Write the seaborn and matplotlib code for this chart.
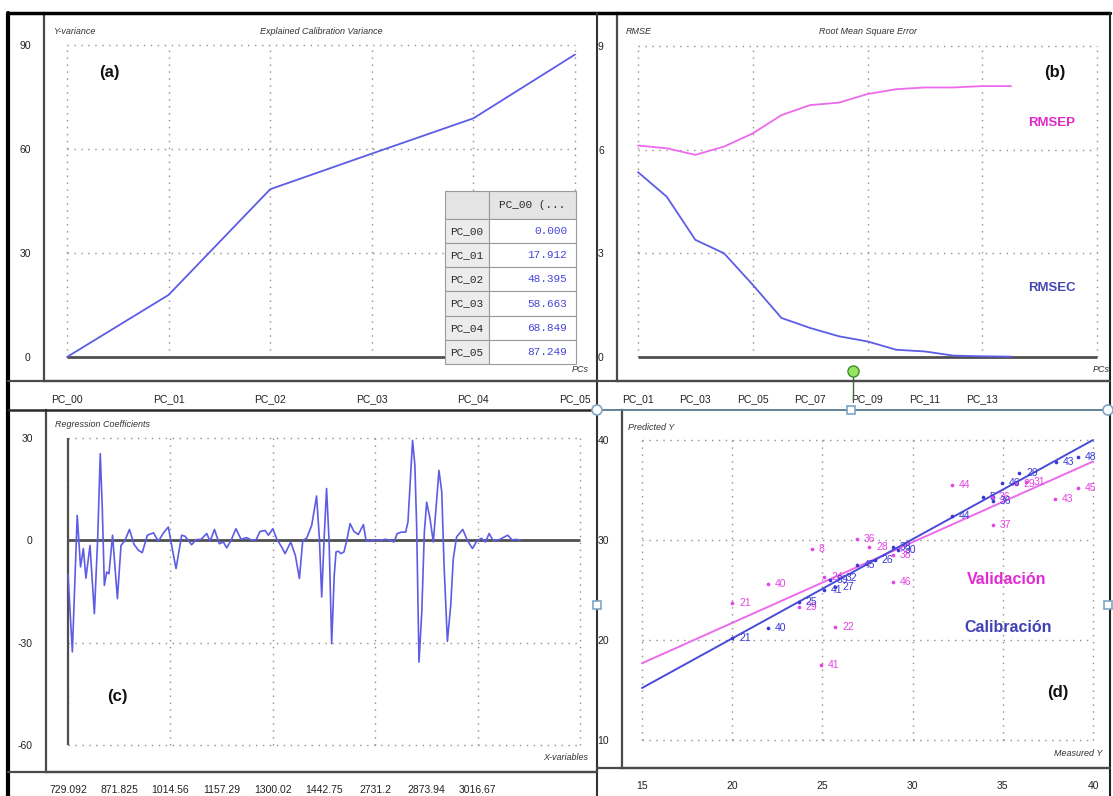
import numpy as np
import matplotlib
matplotlib.use("Agg")
import matplotlib.pyplot as plt
from matplotlib import font_manager
from matplotlib.lines import Line2D
from matplotlib.patches import Rectangle, Ellipse
from matplotlib.table import Table
from matplotlib.ticker import MultipleLocator
import seaborn as sns

# ---------------- data ----------------
# (a) explained calibration variance per number of PCs
pcs_a = ["PC_00", "PC_01", "PC_02", "PC_03", "PC_04", "PC_05"]
explained_var = [0.000, 17.912, 48.395, 58.663, 68.849, 87.249]

# (b) root mean square error versus number of PCs
pcs_b = [1, 2, 3, 4, 5, 6, 7, 8, 9, 10, 11, 12, 13, 14]
rmsep = [6.12, 6.04, 5.85, 6.09, 6.47, 7.00, 7.29, 7.36, 7.61, 7.75, 7.80, 7.80, 7.84, 7.84]
rmsec = [5.35, 4.64, 3.39, 3.00, 2.09, 1.13, 0.84, 0.60, 0.45, 0.21, 0.16, 0.04, 0.02, 0.01]
pc_major_b = [1, 5, 9, 13, 17]
pc_major_labels_b = ["PC_01", "PC_05", "PC_09", "PC_13", ""]
pc_minor_b = [2, 3, 4, 6, 7, 8, 10, 11, 12, 14, 15, 16]
pc_minor_labels_b = ["", "PC_03", "", "", "PC_07", "", "", "PC_11", "", "", "", ""]

# (c) regression coefficients along the X-variables (variable index)
coef_index = [0, 1.7, 3.6, 4.9, 6, 7, 8.6, 10.3, 11.6, 12.6, 13.4, 14.2, 15.1, 16, 17.4,
              19.3, 20.7, 22.3, 24, 25.8, 27.5, 29, 31, 33.4, 35.3, 37.3, 39.2, 40.5, 42.2,
              44.4, 45.7, 48.3, 50, 52, 54.2, 55.5, 57.2, 59.1, 60.7, 62, 63.7, 65.6, 67.6,
              69.8, 71.8, 73.5, 75, 77, 78.3, 80, 81.6, 83.5, 84.8, 87, 88.8, 90.4, 91.7,
              93.2, 95.2, 97.1, 98.2, 99.1, 100.1, 101, 102, 103, 104, 104.7, 105.6, 106.6,
              107.8, 108.9, 110.2, 111.7, 113.4, 115.4, 116.4, 117.7, 120, 122, 124, 126,
              127.3, 128.6, 130.2, 131.9, 132.8, 134.6, 135.5, 136.2, 137.1, 138.2, 139.2,
              140.1, 141.4, 142.7, 143.75, 144.9, 146, 146.9, 148.2, 149.5, 150.5, 151.8,
              154.2, 156, 158, 159.6, 161.5, 163.1, 164.5, 166, 168.6, 169.9, 171.8, 173.5,
              175, 176.6]
coef_value = [-10, -32.7, 7.3, -7.8, -2.4, -11.1, -1.5, -21.5, 0.6, 25.4, 9.3, -13.2, -9.3,
              -9.8, 1.5, -17.1, -1.5, 0, 3.2, -1.2, -2.9, -3.6, 1.5, 2.2, -0.3, 2.2, 3.9, -1.5,
              -8.3, 1.5, 1.2, -1.3, 0.2, 0.3, 2.0, -0.3, 3.2, -1.0, -0.5, -2.2, 0, 3.4, 0.3,
              0.8, 0, 0.2, 2.6, 2.9, 1.5, 3.4, 0.3, -2.0, -3.9, -0.5, -4.4, -11.2, 0, 0.6,
              4.4, 13.0, 0.5, -16.6, 1.3, 15.2, -0.5, -30.3, -10.3, -3.4, -3.2, -3.9, -3.4,
              0, 4.9, 2.6, 1.7, 4.6, 0, -0.3, 0.2, 0, 0.3, 0, -0.5, 2.0, 2.4, 2.4, 5.4, 29.3,
              22, 3.9, -35.7, -21, 2.4, 11.2, 6.4, -0.5, 9.3, 20.5, 14.2, -7.3, -29.6, -19.1,
              -5.4, 1.0, 3.2, 0, -2.4, -0.3, 0.6, -0.5, 2.0, 0, 0.2, 0.8, 1.5, 0.1, 0.3, 0]
xvar_labels = ["729.092", "871.825", "1014.56", "1157.29", "1300.02",
               "1442.75", "2731.2", "2873.94", "3016.67"]
xvar_step = 20

# (d) predicted versus measured Y
cal_measured = [20.0, 22.0, 23.7, 25.1, 25.4, 25.7, 25.9, 26.9, 27.9, 28.9, 29.2, 32.2,
                33.9, 34.45, 34.95, 35.9, 37.95, 39.15]
cal_predicted = [20.2, 21.2, 23.8, 25.0, 26.0, 25.3, 26.2, 27.5, 28.0, 29.3, 29.0, 32.4,
                 34.3, 33.9, 35.7, 36.7, 37.8, 38.3]
cal_labels = ["21", "40", "25", "41", "39", "27", "32", "45", "26", "38", "30", "44",
              "5", "36", "46", "29", "43", "48"]
val_measured = [20.0, 22.0, 24.9, 25.7, 24.4, 23.7, 25.1, 26.9, 27.6, 28.9, 28.9, 32.2,
                34.45, 34.4, 35.75, 36.3, 37.9, 39.15]
val_predicted = [23.7, 25.6, 17.5, 21.3, 29.1, 23.3, 26.3, 30.1, 29.3, 25.8, 28.5, 35.5,
                 31.5, 34.3, 35.6, 35.8, 34.1, 35.2]
val_labels = ["21", "40", "41", "22", "8", "29", "24", "36", "28", "46", "38", "44",
              "37", "36", "29", "31", "43", "45"]
cal_fit = (0.992, 0.32)   # slope, intercept of the calibration line
val_fit = (0.807, 5.57)   # slope, intercept of the validation line
fit_range = [15, 40]

# ---------------- style ----------------
sns.set_style("white")
available = {f.name for f in font_manager.fontManager.ttflist}
NARROW = "Liberation Sans Narrow" if "Liberation Sans Narrow" in available else "Liberation Sans"
plt.rcParams["font.family"] = [NARROW, "DejaVu Sans"]
plt.rcParams["axes.unicode_minus"] = False

BLUE_LINE = "#5c5ce6"
PINK_LINE = "#ec6aec"
AXIS = "#4a4a4a"
GRID = "#8e8e8e"
ZERO = "#4f4f4f"
CAL = "#3a3ad2"
VAL = "#e445e4"
GRID_STYLE = dict(color=GRID, linestyle=(0, (1, 4)), linewidth=1.0, zorder=1)
MONO = ["Liberation Mono", "DejaVu Sans Mono"]

W, H, DPI = 1113, 796, 100
fig = plt.figure(figsize=(W / DPI, H / DPI), dpi=DPI, facecolor="white")


def add_px_axes(left, top, right, bottom):
    return fig.add_axes([left / W, 1 - bottom / H, (right - left) / W, (bottom - top) / H])


def span(v0, p0, v1, p1, lo, hi):
    k = (v1 - v0) / (p1 - p0)
    return v0 + (lo - p0) * k, v0 + (hi - p0) * k


def px_text(x, y, s, **kw):
    fig.text(x / W, 1 - y / H, s, **kw)


def px_line(x0, y0, x1, y1, **kw):
    fig.add_artist(Line2D([x0 / W, x1 / W], [1 - y0 / H, 1 - y1 / H],
                          transform=fig.transFigure, **kw))


def style_axes(ax):
    ax.set_facecolor("white")
    for side in ("top", "right"):
        ax.spines[side].set_visible(False)
    for side in ("left", "bottom"):
        ax.spines[side].set_color(AXIS)
        ax.spines[side].set_linewidth(1.6)
    ax.tick_params(which="major", direction="out", length=8, width=1.2, color=AXIS,
                   labelsize=7.5, labelcolor="#222222", pad=1.5)
    ax.tick_params(which="minor", direction="out", length=4, width=1.0, color=AXIS,
                   labelsize=7.5, labelcolor="#222222", pad=5.5)
    ax.grid(False)
    ax.set_xlabel("")
    ax.set_ylabel("")


italic_small = dict(fontsize=6.5, style="italic", color="#333333")
panel_tag = dict(fontsize=12, fontweight="bold", family=["Liberation Sans", "DejaVu Sans"],
                 color="#111111", ha="center", va="center")

# ---------------- (a) explained calibration variance ----------------
ax_a = add_px_axes(44, 13, 597, 381)
style_axes(ax_a)
pos_a = np.arange(len(pcs_a))
ax_a.set_xlim(*span(0, 67, 5, 575, 44, 597))
ax_a.set_ylim(*span(0, 357, 90, 45, 381, 13))
yt_a = [0, 30, 60, 90]
ax_a.vlines(pos_a, 0, yt_a[-1], **GRID_STYLE)
ax_a.hlines(yt_a[1:], pos_a[0], pos_a[-1], **GRID_STYLE)
ax_a.hlines(0, pos_a[0], pos_a[-1], color=ZERO, linewidth=2.0, zorder=2)
sns.lineplot(x=pos_a, y=explained_var, ax=ax_a, color=BLUE_LINE, linewidth=1.3, zorder=3)
ax_a.set_xticks(pos_a, pcs_a)
ax_a.set_yticks(yt_a)
ax_a.yaxis.set_minor_locator(MultipleLocator(10))
ax_a.set_xlabel("")
ax_a.set_ylabel("")

# table with the variance values (row-label column + value column)
tbl = Table(ax_a, bbox=[(445 - 44) / 553, (381 - 364) / 368, 131 / 553, 173 / 368])
label_w, value_w = 44.0, 87.0
head_h, row_h = 28.0, 24.2
tbl.add_cell(0, 0, label_w, head_h, text="", loc="center", facecolor="#e4e4e4")
tbl.add_cell(0, 1, value_w, head_h, text="PC_00 (...", loc="center", facecolor="#e4e4e4")
for i, (pc, v) in enumerate(zip(pcs_a, explained_var), start=1):
    tbl.add_cell(i, 0, label_w, row_h, text=pc, loc="center", facecolor="#ececec")
    tbl.add_cell(i, 1, value_w, row_h, text=f"{v:.3f}", loc="right", facecolor="white")
tbl.auto_set_font_size(False)
for (r, c), cell in tbl.get_celld().items():
    cell.set_edgecolor("#9a9a9a")
    cell.set_linewidth(0.8)
    txt = cell.get_text()
    txt.set_fontfamily(MONO)
    txt.set_fontsize(8)
    if r == 0 or c == 0:
        txt.set_color("#2a2a2a")
    else:
        txt.set_color("#4646dc")
tbl.set_zorder(5)
ax_a.add_table(tbl)

px_text(53, 32, "Y-variance", ha="left", va="center", **italic_small)
px_text(321, 32, "Explained Calibration Variance", ha="center", va="center", **italic_small)
px_text(580, 370, "PCs", ha="center", va="center", **italic_small)
px_text(109, 73, "(a)", **panel_tag)

# ---------------- (b) RMSE ----------------
ax_b = add_px_axes(617, 13, 1109, 381)
style_axes(ax_b)
ax_b.set_xlim(*span(1, 638, 17, 1097, 617, 1109))
ax_b.set_ylim(*span(0, 357, 9, 46, 381, 13))
yt_b = [0, 3, 6, 9]
ax_b.vlines(pc_major_b, 0, yt_b[-1], **GRID_STYLE)
ax_b.hlines(yt_b[1:], pc_major_b[0], pc_major_b[-1], **GRID_STYLE)
ax_b.hlines(0, pc_major_b[0], pc_major_b[-1], color=ZERO, linewidth=2.0, zorder=2)
sns.lineplot(x=pcs_b, y=rmsep, ax=ax_b, color=PINK_LINE, linewidth=1.3, zorder=3)
sns.lineplot(x=pcs_b, y=rmsec, ax=ax_b, color=BLUE_LINE, linewidth=1.3, zorder=3)
ax_b.set_xticks(pc_major_b, pc_major_labels_b)
ax_b.set_xticks(pc_minor_b, pc_minor_labels_b, minor=True)
ax_b.set_yticks(yt_b)
ax_b.yaxis.set_minor_locator(MultipleLocator(1))
ax_b.set_xlabel("")
ax_b.set_ylabel("")
# selected-component marker
ax_b.plot([8.5, 8.5], [-0.55, -1.25], color="#3d6b3d", linewidth=1.0, clip_on=False, zorder=6)
ax_b.plot([8.5], [-0.4], marker="o", markersize=8, markerfacecolor="#96e45e",
          markeredgecolor="#3f8f2f", markeredgewidth=1.0, clip_on=False, zorder=7)

px_text(626, 32, "RMSE", ha="left", va="center", **italic_small)
px_text(868, 32, "Root Mean Square Error", ha="center", va="center", **italic_small)
px_text(1101, 370, "PCs", ha="center", va="center", **italic_small)
px_text(1055, 72, "(b)", **panel_tag)
px_text(1052, 123, "RMSEP", ha="center", va="center", fontsize=9.5, fontweight="bold",
        family=["Liberation Sans", "DejaVu Sans"], color="#e02ac8")
px_text(1052, 288, "RMSEC", ha="center", va="center", fontsize=9.5, fontweight="bold",
        family=["Liberation Sans", "DejaVu Sans"], color="#4848b4")

# ---------------- (c) regression coefficients ----------------
ax_c = add_px_axes(46, 410, 597, 772)
style_axes(ax_c)
ax_c.set_xlim(*span(0, 68, 200, 580, 46, 597))
ax_c.set_ylim(*span(30, 438, -60, 745, 772, 410))
grid_x_c = np.arange(0, 201, 2 * xvar_step)
yt_c = [-60, -30, 0, 30]
ax_c.vlines(grid_x_c, yt_c[0], yt_c[-1], **GRID_STYLE)
ax_c.hlines([-60, -30, 30], grid_x_c[0], grid_x_c[-1], **GRID_STYLE)
ax_c.hlines(0, grid_x_c[0], grid_x_c[-1], color=ZERO, linewidth=2.0, zorder=2)
ax_c.vlines(0, yt_c[0], yt_c[-1], color=ZERO, linewidth=1.6, zorder=2)
sns.lineplot(x=coef_index, y=coef_value, ax=ax_c, color=BLUE_LINE, linewidth=1.2, zorder=3)
major_c = list(grid_x_c)
major_labels_c = [xvar_labels[i] if i < len(xvar_labels) else ""
                  for i in range(0, 2 * len(grid_x_c), 2)]
minor_c = list(grid_x_c[:-1] + xvar_step)
minor_labels_c = [xvar_labels[i] if i < len(xvar_labels) else ""
                  for i in range(1, 2 * len(grid_x_c) - 1, 2)]
ax_c.set_xticks(major_c, major_labels_c)
ax_c.set_xticks(minor_c, minor_labels_c, minor=True)
ax_c.set_yticks(yt_c)
ax_c.yaxis.set_minor_locator(MultipleLocator(10))
ax_c.set_xlabel("")
ax_c.set_ylabel("")

px_text(55, 425, "Regression Coefficients", ha="left", va="center", **italic_small)
px_text(566, 757, "X-variables", ha="center", va="center", **italic_small)
px_text(117, 697, "(c)", **panel_tag)

# ---------------- (d) predicted vs measured ----------------
ax_d = add_px_axes(622, 410, 1109, 768)
style_axes(ax_d)
ax_d.set_xlim(*span(15, 642, 40, 1093, 622, 1109))
ax_d.set_ylim(*span(40, 440, 10, 740, 768, 410))
xt_d = [15, 20, 25, 30, 35, 40]
yt_d = [10, 20, 30, 40]
ax_d.vlines(xt_d, yt_d[0], yt_d[-1], **GRID_STYLE)
ax_d.hlines(yt_d, xt_d[0], xt_d[-1], **GRID_STYLE)

fit_x = np.array(fit_range, dtype=float)
sns.lineplot(x=fit_x, y=val_fit[0] * fit_x + val_fit[1], ax=ax_d, color=PINK_LINE,
             linewidth=1.4, zorder=3)
sns.lineplot(x=fit_x, y=cal_fit[0] * fit_x + cal_fit[1], ax=ax_d, color="#4a4ad8",
             linewidth=1.4, zorder=3)
sns.scatterplot(x=val_measured, y=val_predicted, ax=ax_d, color=VAL, s=7, linewidth=0, zorder=4)
sns.scatterplot(x=cal_measured, y=cal_predicted, ax=ax_d, color=CAL, s=7, linewidth=0, zorder=4)
for m, p, lab in zip(val_measured, val_predicted, val_labels):
    ax_d.annotate(lab, (m, p), xytext=(5, 0), textcoords="offset points", ha="left",
                  va="center", fontsize=7.5, color=VAL, zorder=5)
for m, p, lab in zip(cal_measured, cal_predicted, cal_labels):
    ax_d.annotate(lab, (m, p), xytext=(5, 0), textcoords="offset points", ha="left",
                  va="center", fontsize=7.5, color=CAL, zorder=5)
ax_d.set_xticks(xt_d)
ax_d.set_yticks(yt_d)
ax_d.xaxis.set_minor_locator(MultipleLocator(1))
ax_d.yaxis.set_minor_locator(MultipleLocator(1))
ax_d.set_xlabel("")
ax_d.set_ylabel("")

px_text(628, 427, "Predicted Y", ha="left", va="center", **italic_small)
px_text(1078, 754, "Measured Y", ha="center", va="center", **italic_small)
px_text(1058, 692, "(d)", **panel_tag)
px_text(1007, 580, "Validación", ha="center", va="center", fontsize=11.5, fontweight="bold",
        family=["Liberation Sans", "DejaVu Sans"], color="#e22ad2")
px_text(1008, 627, "Calibración", ha="center", va="center", fontsize=11.5, fontweight="bold",
        family=["Liberation Sans", "DejaVu Sans"], color="#4040b8")

# ---------------- window frame ----------------
px_line(8, 13, 8, 796, color="black", linewidth=3)
px_line(8, 13, 1110, 13, color="black", linewidth=2.5)
px_line(1110, 13, 1110, 796, color="#222222", linewidth=1.5)
px_line(597, 13, 597, 796, color="#333333", linewidth=1.5)
px_line(8, 381, 1110, 381, color=AXIS, linewidth=1.6)
px_line(8, 410, 597, 410, color="#2a2a2a", linewidth=1.8)
px_line(597, 410, 1108, 410, color="#56788f", linewidth=1.3)
px_line(8, 772, 597, 772, color=AXIS, linewidth=1.6)
px_line(597, 768, 1110, 768, color=AXIS, linewidth=1.6)

# selection handles
for hx, hy in [(597, 410), (1108, 410)]:
    fig.add_artist(Ellipse((hx / W, 1 - hy / H), 10 / W, 10 / H, transform=fig.transFigure,
                           facecolor="white", edgecolor="#7aa6c8", linewidth=1.2, zorder=10))
for hx, hy in [(851, 410), (597, 605), (1108, 605)]:
    fig.add_artist(Rectangle(((hx - 4) / W, 1 - (hy + 4) / H), 8 / W, 8 / H,
                             transform=fig.transFigure, facecolor="white",
                             edgecolor="#7aa6c8", linewidth=1.2, zorder=10))

fig.savefig("out.png", dpi=DPI, facecolor="white")
